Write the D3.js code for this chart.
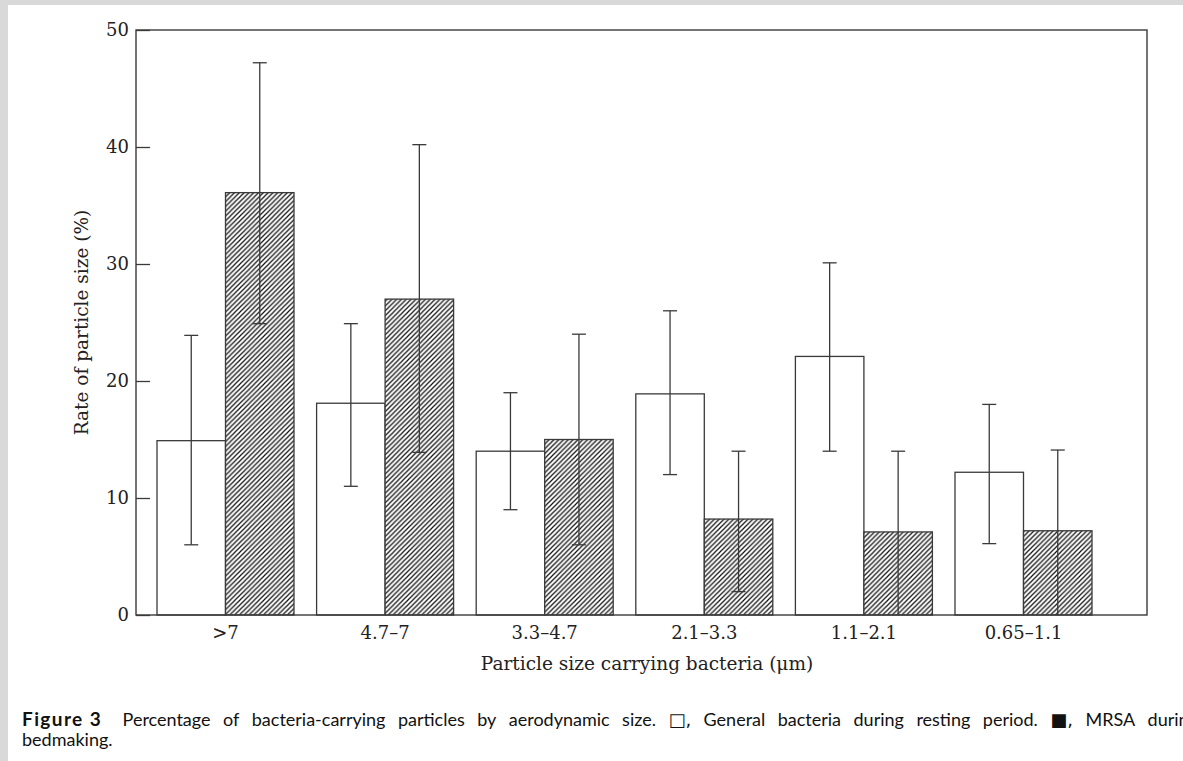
<!DOCTYPE html>
<html>
<head>
<meta charset="utf-8">
<script src="https://cdn.jsdelivr.net/npm/d3@7"></script>
<style>
  body { margin: 0; background: #d9d9d9; }
  svg { display: block; }
</style>
</head>
<body>
<div class="canvas"></div>
<script>
// chart data
const sizes = ['>7', '4.7\u20137', '3.3\u20134.7', '2.1\u20133.3', '1.1\u20132.1', '0.65\u20131.1'];
const series = ['general', 'mrsa'];

const generalMean = [14.9, 18.1, 14.0, 18.9, 22.1, 12.2];
const generalLow  = [6.0, 11.0, 9.0, 12.0, 14.0, 6.1];
const generalHigh = [23.9, 24.9, 19.0, 26.0, 30.1, 18.0];

const mrsaMean = [36.1, 27.0, 15.0, 8.2, 7.1, 7.2];
const mrsaLow  = [24.9, 13.9, 6.0, 2.0, 0, 0];
const mrsaHigh = [47.2, 40.2, 24.0, 14.0, 14.0, 14.1];

const yTicks = [0, 10, 20, 30, 40, 50];

const xTitle = 'Particle size carrying bacteria (\u03bcm)';
const yTitle = 'Rate of particle size (%)';
const captionBold = 'Figure 3';
const captionLine1 = 'Percentage of bacteria-carrying particles by aerodynamic size. \u25a1, General bacteria during resting period. \u25a0, MRSA during';
const captionLine2 = 'bedmaking.';

// dimensions
const width = 1183, height = 761;
const plot = {left: 136, right: 1147, top: 30, bottom: 615};

const svg = d3.select('.canvas')
  .append('svg')
  .attr('width', width)
  .attr('height', height);

// white page with grey border top/left
svg.append('rect')
  .attr('x', 8).attr('y', 5)
  .attr('width', width - 8).attr('height', height - 5)
  .attr('fill', '#fff');

// hatch pattern
const defs = svg.append('defs');
const hatch = defs.append('pattern')
  .attr('id', 'hatch')
  .attr('patternUnits', 'userSpaceOnUse')
  .attr('width', 4.8).attr('height', 4.8);
hatch.append('rect').attr('width', 4.8).attr('height', 4.8).attr('fill', '#fff');
hatch.append('path')
  .attr('d', 'M-1,1 L1,-1 M0,4.8 L4.8,0 M3.8,5.8 L5.8,3.8')
  .attr('stroke', '#111')
  .attr('stroke-width', 1.2);

// scales
const y = d3.scaleLinear()
  .domain([0, 50])
  .range([plot.bottom, plot.top]);

const x = d3.scaleBand()
  .domain(sizes)
  .range([145.7, 1103.3])
  .paddingInner(0.1416)
  .paddingOuter(0.0708);

const xSub = d3.scaleBand()
  .domain(series)
  .range([0, x.bandwidth()]);

const lineColor = '#3a3a3a';
const serif = '"DejaVu Serif", serif';

// rows for drawing
const rows = [];
sizes.forEach((s, i) => {
  rows.push({size: s, key: 'general', mean: generalMean[i], lo: generalLow[i], hi: generalHigh[i]});
  rows.push({size: s, key: 'mrsa', mean: mrsaMean[i], lo: mrsaLow[i], hi: mrsaHigh[i]});
});

const graph = svg.append('g');

// bars
graph.selectAll('rect.bar')
  .data(rows)
  .enter()
  .append('rect')
  .attr('class', 'bar')
  .attr('x', d => x(d.size) + xSub(d.key))
  .attr('y', d => y(d.mean))
  .attr('width', xSub.bandwidth())
  .attr('height', d => y(0) - y(d.mean))
  .attr('fill', d => d.key === 'mrsa' ? 'url(#hatch)' : '#fff')
  .attr('stroke', lineColor)
  .attr('stroke-width', 1.3);

// error bars
const capW = 14;
const errs = graph.append('g').attr('class', 'errors');
const cx = d => x(d.size) + xSub(d.key) + xSub.bandwidth() / 2;

errs.selectAll('line.stem')
  .data(rows)
  .enter()
  .append('line')
  .attr('x1', cx).attr('x2', cx)
  .attr('y1', d => y(d.lo)).attr('y2', d => y(d.hi))
  .attr('stroke', lineColor)
  .attr('stroke-width', 1.3);

errs.selectAll('line.capHi')
  .data(rows)
  .enter()
  .append('line')
  .attr('x1', d => cx(d) - capW / 2).attr('x2', d => cx(d) + capW / 2)
  .attr('y1', d => y(d.hi)).attr('y2', d => y(d.hi))
  .attr('stroke', lineColor)
  .attr('stroke-width', 1.3);

errs.selectAll('line.capLo')
  .data(rows.filter(d => d.lo > 0))
  .enter()
  .append('line')
  .attr('x1', d => cx(d) - capW / 2).attr('x2', d => cx(d) + capW / 2)
  .attr('y1', d => y(d.lo)).attr('y2', d => y(d.lo))
  .attr('stroke', lineColor)
  .attr('stroke-width', 1.3);

// frame
svg.append('rect')
  .attr('x', plot.left).attr('y', plot.top)
  .attr('width', plot.right - plot.left)
  .attr('height', plot.bottom - plot.top)
  .attr('fill', 'none')
  .attr('stroke', lineColor)
  .attr('stroke-width', 1.4);

// y axis (ticks inside)
const yAxisGroup = svg.append('g')
  .attr('transform', `translate(${plot.left},0)`);
yAxisGroup.call(d3.axisLeft(y).tickValues(yTicks).tickSize(-14).tickPadding(7));
yAxisGroup.select('.domain').remove();
yAxisGroup.selectAll('.tick line').attr('stroke', lineColor).attr('stroke-width', 1.3);
yAxisGroup.selectAll('.tick text')
  .attr('font-family', serif)
  .attr('font-size', 18)
  .attr('fill', '#222');

// x axis labels
const xAxisGroup = svg.append('g')
  .attr('transform', `translate(0,${plot.bottom})`);
xAxisGroup.call(d3.axisBottom(x).tickSize(0).tickPadding(11));
xAxisGroup.select('.domain').remove();
xAxisGroup.selectAll('.tick text')
  .attr('font-family', serif)
  .attr('font-size', 18)
  .attr('fill', '#222');

// axis titles
svg.append('text')
  .attr('x', (485 + 809) / 2).attr('y', 670)
  .attr('text-anchor', 'middle')
  .attr('font-family', serif)
  .attr('font-size', 18.5)
  .attr('fill', '#222')
  .text(xTitle);

svg.append('text')
  .attr('transform', `translate(88,${(plot.top + plot.bottom) / 2}) rotate(-90)`)
  .attr('text-anchor', 'middle')
  .attr('font-family', serif)
  .attr('font-size', 18.5)
  .attr('fill', '#222')
  .text(yTitle);

// caption, justified across the line (runs past the right edge as in the source)
const sans = 'Lato, "Open Sans", sans-serif';
const cap = svg.append('g')
  .attr('font-family', sans)
  .attr('font-size', 18)
  .attr('fill', '#111');

const words = [{t: captionBold, bold: true}].concat(captionLine1.split(' ').map(t => ({t, bold: false})));
const nodes = words.map(w => {
  const n = cap.append('text')
    .attr('y', 726)
    .attr('font-weight', w.bold ? 700 : 400)
    .attr('font-size', w.bold ? 19 : 18)
    .attr('letter-spacing', w.bold ? 1.4 : 0)
    .text(w.t);
  if (w.t.startsWith('\u25a1') || w.t.startsWith('\u25a0')) n.attr('font-family', '"DejaVu Sans", sans-serif');
  return n;
});
const widths = nodes.map(n => n.node().getComputedTextLength());
widths[0] += 8; // wider space after the figure label
const startX = 22, endX = 1198;
const gap = (endX - startX - d3.sum(widths)) / (nodes.length - 1);
let pos = startX;
nodes.forEach((n, i) => {
  n.attr('x', pos);
  pos += widths[i] + gap;
});

cap.append('text')
  .attr('x', 22).attr('y', 746)
  .text(captionLine2);
</script>
</body>
</html>
